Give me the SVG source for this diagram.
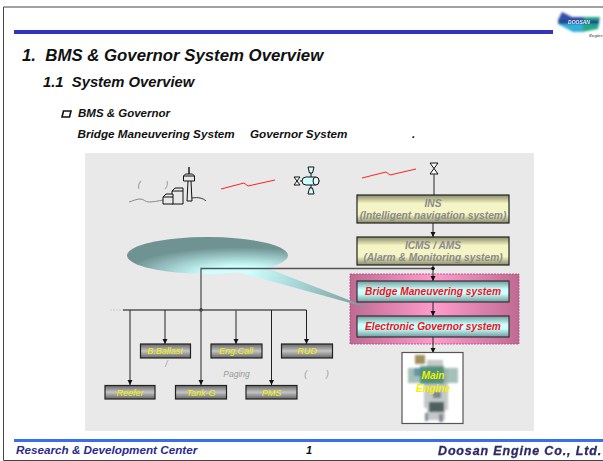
<svg xmlns="http://www.w3.org/2000/svg" width="603" height="461" viewBox="0 0 603 461">
<style>
text{font-family:"Liberation Sans",Arial,sans-serif;font-style:italic;font-weight:bold;white-space:pre}
.c{text-anchor:middle}
.ln{fill:none;stroke:#222;stroke-width:1}
.gl{fill:none;stroke:#555;stroke-width:1.3}
.ic{fill:#fff;stroke:#111;stroke-width:1}
.y{fill:url(#gy);stroke:#222;stroke-width:1.2}
.k{fill:url(#gk);stroke:#222;stroke-width:1.2}
.t{fill:url(#gt);stroke:#333;stroke-width:1.2}
.big{font-size:10.200px}
.g{fill:#8a8a8a}
.r{fill:#f01020}
.sm{font-size:9px;fill:#f4f000;font-weight:normal}
.note{font-size:8.500px;fill:#999;font-weight:normal}
.hd{fill:#111}
.st{fill:#e9e9e9;stroke:#111;stroke-width:1}
</style>
<defs>
<linearGradient id="gy" x1="0" y1="0" x2="0" y2="1"><stop offset="0" stop-color="#8a8a68"/><stop offset=".3" stop-color="#f4f4c4"/><stop offset=".7" stop-color="#f4f4c4"/><stop offset="1" stop-color="#8a8a68"/></linearGradient>
<linearGradient id="gk" x1="0" y1="0" x2="0" y2="1"><stop offset="0" stop-color="#666"/><stop offset=".5" stop-color="#c4c4c4"/><stop offset="1" stop-color="#666"/></linearGradient>
<linearGradient id="gt" x1="0" y1="0" x2="0" y2="1"><stop offset="0" stop-color="#6f9c9c"/><stop offset=".4" stop-color="#ccffff"/><stop offset=".6" stop-color="#ccffff"/><stop offset="1" stop-color="#6f9c9c"/></linearGradient>
<linearGradient id="gp" x1="0" y1="0" x2="1" y2="0"><stop offset="0" stop-color="#bf6a93"/><stop offset=".5" stop-color="#ff9ccc"/><stop offset="1" stop-color="#bf6a93"/></linearGradient>
<radialGradient id="ge" cx=".7" cy="1" r=".72"><stop offset="0" stop-color="#ccffff"/><stop offset=".3" stop-color="#ccffff"/><stop offset="1" stop-color="#6f9393"/></radialGradient>
<linearGradient id="gs" gradientUnits="userSpaceOnUse" x1="250" y1="268" x2="372" y2="309"><stop offset="0" stop-color="#ccffff"/><stop offset="1" stop-color="#6f9393"/></linearGradient>
<filter id="bl" x="-20%" y="-20%" width="140%" height="140%"><feGaussianBlur stdDeviation="1"/></filter>
<filter id="bs" x="-10%" y="-10%" width="120%" height="120%"><feGaussianBlur stdDeviation=".5"/></filter>
<filter id="bm" x="-10%" y="-10%" width="120%" height="120%"><feGaussianBlur stdDeviation=".8"/></filter>
<marker id="a" markerWidth="6" markerHeight="6" refX="5" refY="2.500" orient="auto" markerUnits="userSpaceOnUse"><path d="M0 0L5 2.500L0 5z" fill="#111"/></marker>
</defs>
<rect width="603" height="461" fill="#fff"/>
<path d="M603 7H3.500V460.500H603" fill="none" stroke="#444" stroke-width="1"/>
<rect x="14" y="30" width="539" height="4" fill="#3333bb"/>
<g id="logo">
<g filter="url(#bm)">
<path d="M558 20L562 12L572 17L585 17L584 23L558 24z" fill="#3050a8"/>
<path d="M558 24L584 22L582 32L573 32z" fill="#30b0d8"/>
<path d="M584 17L600 17L598 29L582 32z" fill="#20a888"/>
<rect x="560" y="20" width="39" height="4" fill="#224a90"/>
</g>
<text x="579" y="24" class="c" style="font-size:5px;fill:#e8f0ff" filter="url(#bs)">DOOSAN</text>
<text x="596" y="37" class="c" style="font-size:4px;fill:#667" filter="url(#bs)">Engine</text>
</g>
<text x="22" y="61" class="hd" style="font-size:16.800px">1.  BMS &amp; Governor System Overview</text>
<text x="43" y="87" class="hd" style="font-size:14.800px">1.1  System Overview</text>
<path d="M63.500 111h7.500l-1.500 6h-7.500z" fill="none" stroke="#111" stroke-width="1.600"/>
<text x="78" y="117" class="hd" style="font-size:11.500px">BMS &amp; Governor</text>
<text x="77.500" y="138" class="hd" style="font-size:11.700px">Bridge Maneuvering System</text>
<text x="250" y="138" class="hd" style="font-size:11.700px">Governor System</text>
<text x="412" y="138" class="hd" style="font-size:11.700px">.</text>
<rect x="85" y="153" width="449" height="278" fill="#e9e9e9"/>
<rect id="pinkbox" x="350" y="274" width="169" height="70" fill="url(#gp)" stroke="#b04a7a" stroke-width=".8" stroke-dasharray="2 1"/>
<g id="callout">
<ellipse cx="207.500" cy="255.500" rx="80.500" ry="18.500" fill="url(#ge)"/>
<path d="M238 272L267 268L372 309Z" fill="url(#gs)"/>
</g>
<g id="shore">
<path d="M129 202c4-1 7-3 11-3s5 3 9 3 9-1 14-2" fill="none" stroke="#888" stroke-width="1"/>
<path d="M192 198c6-1 11 0 14 3" fill="none" stroke="#333" stroke-width="1"/>
<path d="M139 189c-1-3 0-6 2-8M165 189c2-2 3-5 2-8" fill="none" stroke="#aaa" stroke-width="1.200"/>
<path d="M172 191l3-3h8v16h-11zM172 191h11" class="st"/>
<path d="M163 197l3-3h7v10h-10zM163 197h10" class="st"/>
<path d="M188 181l-1 20h5l-1-20" class="st"/>
<path d="M183.500 176l2-2h7l2 2v5h-11zM183.500 176h11" class="st"/>
<path d="M189 167v7" stroke="#111" stroke-width="1.400"/>
</g>
<path d="M221 189L244 183L248 186L275 180" fill="none" stroke="#ff2020" stroke-width="1"/>
<path d="M362 178L386 172L390 175L416 169" fill="none" stroke="#ff2020" stroke-width="1"/>
<g id="satellite">
<path d="M300 181h2M311 173v4M311 185v3" stroke="#111"/>
<rect x="302" y="177" width="17" height="8" rx="4" fill="#ccffff" stroke="#111"/>
<ellipse cx="316" cy="181" rx="3" ry="4" fill="#e9f8f8" stroke="#111"/>
<path d="M294 177h6l-3 4 3 4h-6l3-4z" class="ic"/>
<path d="M308 167h6l-1.500 6h-3zM309.500 188h3l1.500 6h-6z" fill="#ccffff" stroke="#111"/>
</g>
<path d="M430 163h8l-4 5.500 4 5.500h-8l4-5.500z" class="ic"/>
<g id="connectors">
<path d="M434 174V195" class="gl"/>
<path d="M433 223V237" class="ln" marker-end="url(#a)"/>
<path d="M433 265V281" class="ln" marker-end="url(#a)"/>
<path d="M433 302V316" class="ln" marker-end="url(#a)"/>
<path d="M433 337V353" class="ln" marker-end="url(#a)"/>
<path d="M433 268.500H201V310" class="gl"/>
<circle cx="433" cy="268.500" r="1.800" fill="#111"/>
<circle cx="201" cy="310" r="1.800" fill="#111"/>
<path d="M123 310H306.500" class="gl"/>
<path d="M110 310h13" stroke="#ccc" stroke-width="1" stroke-dasharray="2 1"/>
<path d="M130 310V385" class="ln" marker-end="url(#a)"/>
<path d="M165 310V344" class="ln" marker-end="url(#a)"/>
<path d="M201 310V385" class="gl" marker-end="url(#a)"/>
<path d="M236 310V344" class="gl" marker-end="url(#a)"/>
<path d="M271.500 310V385" class="ln" marker-end="url(#a)"/>
<path d="M306.500 310V344" class="ln" marker-end="url(#a)"/>
</g>
<g id="ins"><rect x="357" y="195" width="152" height="28" class="y"/><text x="433" y="207" class="c big g">INS</text><text x="433" y="218.500" class="c big g">(Intelligent navigation system)</text></g>
<g id="icms"><rect x="357" y="237" width="152" height="28" class="y"/><text x="433" y="249" class="c big g">ICMS / AMS</text><text x="433" y="260.500" class="c big g">(Alarm &amp; Monitoring system)</text></g>
<g id="bms"><rect x="357" y="281" width="152" height="21" class="t"/><text x="433" y="295" class="c big r">Bridge Maneuvering system</text></g>
<g id="egs"><rect x="357" y="316" width="152" height="21" class="t"/><text x="433" y="330" class="c big r">Electronic Governor system</text></g>
<g id="engine">
<rect x="402" y="352.500" width="61" height="71" fill="#fff" stroke="#555" stroke-width="1.200"/>
<g filter="url(#bl)">
<rect x="415" y="355" width="10" height="9" fill="#a09060"/>
<path d="M427 360h16v8h5v42h-3v10h-18v-12h-3v-30h3z" fill="#b4baba" opacity=".8"/>
<rect x="408" y="368" width="50" height="15" fill="#8fb0a8" opacity=".8"/>
<rect x="414" y="368" width="8" height="8" fill="#5a8aa0" opacity=".8"/>
<rect x="420" y="366" width="24" height="18" fill="#3f8a70" opacity=".8"/>
<rect x="429" y="402" width="15" height="10" fill="#4f6060"/>
<rect x="425" y="413" width="3" height="8" fill="#889"/>
<rect x="433" y="392" width="8" height="6" fill="#7a8888"/>
<rect x="439" y="414" width="4" height="8" fill="#889"/>
</g>
<text x="433" y="379" class="c big" style="fill:#f4f000">Main</text>
<text x="433" y="392" class="c big" style="fill:#f4f000">Engine</text>
</g>
<g id="bballast"><rect x="140.500" y="344" width="50" height="14" class="k"/><text x="165" y="354" class="c sm">B.Ballast</text></g>
<g id="engcall"><rect x="211" y="344" width="51" height="14" class="k"/><text x="236" y="354" class="c sm">Eng.Call</text></g>
<g id="rud"><rect x="281.500" y="344" width="51" height="14" class="k"/><text x="307" y="354" class="c sm">RUD</text></g>
<g id="reefer"><rect x="105" y="385.500" width="50" height="13.500" class="k"/><text x="130" y="395.500" class="c sm">Reefer</text></g>
<g id="tankg"><rect x="175.500" y="385.500" width="51" height="13.500" class="k"/><text x="201" y="395.500" class="c sm">Tank-G</text></g>
<g id="pms"><rect x="246" y="385.500" width="51" height="13.500" class="k"/><text x="271.500" y="395.500" class="c sm">PMS</text></g>
<text x="166.500" y="367" class="c note">/</text>
<text x="236.500" y="377" class="c note">Paging</text>
<text x="316.500" y="377" class="c note">(        )</text>
<rect x="14" y="439" width="589" height="3" fill="#3a6ef0"/>
<text x="16" y="454" style="font-size:11.700px;fill:#2a2a90">Research &amp; Development Center</text>
<text x="306" y="454" class="hd" style="font-size:11px">1</text>
<text x="438" y="455" style="font-size:12.500px;fill:#2a2a6a;stroke:#2a2a6a;stroke-width:.3;letter-spacing:.85px" filter="url(#bs)">Doosan Engine Co., Ltd.</text>
</svg>
